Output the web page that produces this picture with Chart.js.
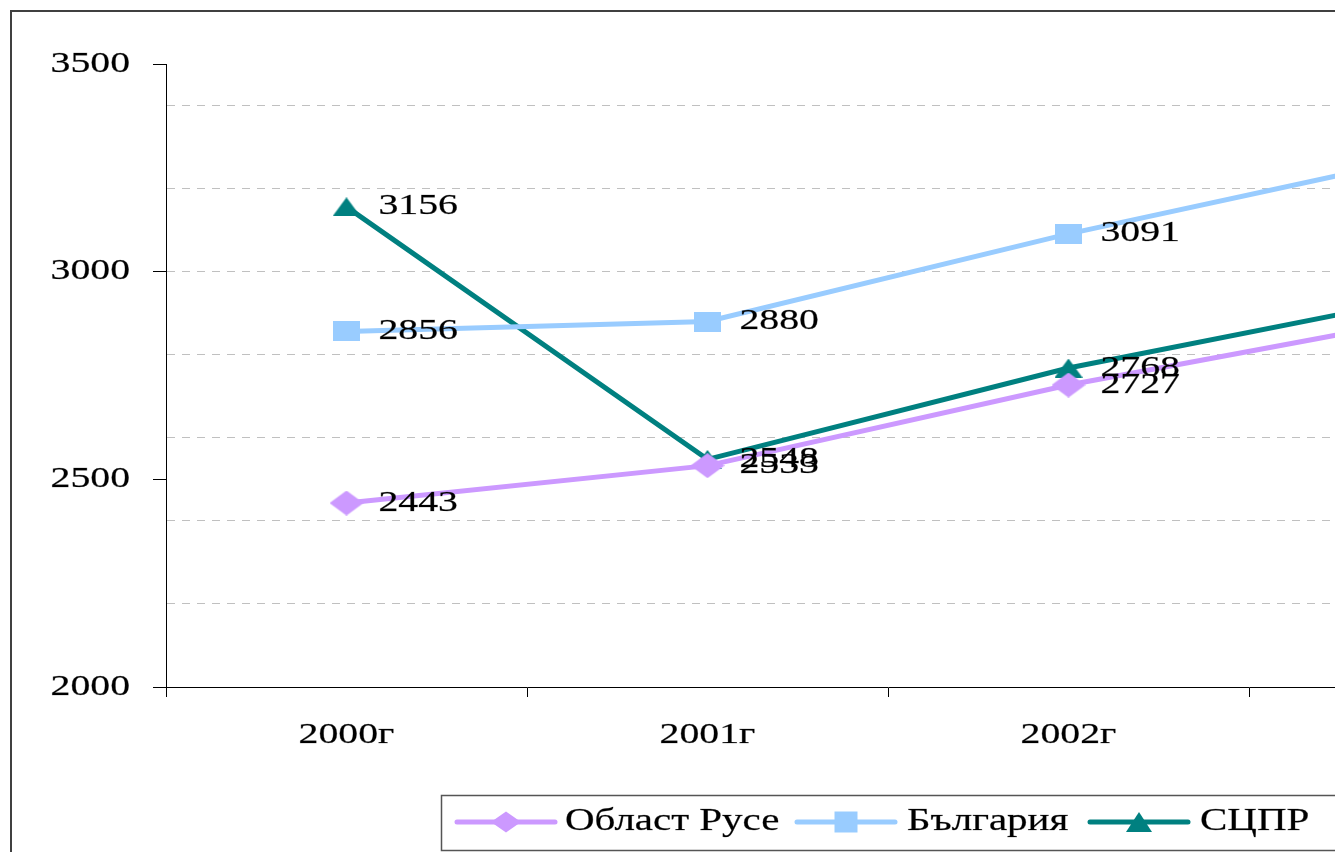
<!DOCTYPE html>
<html>
<head>
<meta charset="utf-8">
<script src="https://cdn.jsdelivr.net/npm/chart.js@4.4.0/dist/chart.umd.min.js"></script>
<style>
    html, body { margin: 0; padding: 0; background: #ffffff; overflow: hidden; }
    #wrap { position: absolute; left: 0; top: 0; width: 1700px; height: 852px; }
</style>
</head>
<body>
<div id="wrap"><canvas id="chart" width="1700" height="852"></canvas></div>
<script>
// Chart data
const years = ['2000г', '2001г', '2002г', '2003г'];
const seriesNames = ['Област Русе', 'България', 'СЦПР'];
const ruseValues = [2443, 2533, 2727, 2889];
const bulgariaValues = [2856, 2880, 3091, 3279];
const scprValues = [3156, 2548, 2768, 2940];
const yTickLabels = [2000, 2500, 3000, 3500];

const colors = ['#CC99FF', '#99CCFF', '#008080'];
const markers = ['diamond', 'square', 'triangle'];
// marker boxes (w, h) on the lines and in the legend
const pointBoxes = [[34, 25], [27, 20], [28, 19]];
const legendBoxes = [[30, 21], [23, 21], [26, 20]];

const SERIF = '"Liberation Serif", "Times New Roman", serif';

// draw wide serif text like the original picture
function wideText(ctx, txt, x, y, align, size, stretch) {
    ctx.save();
    ctx.translate(x, y);
    ctx.scale(stretch || 1.37, 1);
    ctx.font = (size || 29) + 'px ' + SERIF;
    ctx.fillStyle = '#000000';
    ctx.strokeStyle = 'rgba(0,0,0,0.45)';
    ctx.lineWidth = 0.5;
    ctx.textAlign = align;
    ctx.textBaseline = 'middle';
    ctx.fillText(txt, 0, 0);
    ctx.strokeText(txt, 0, 0);
    ctx.restore();
}

function shapePath(ctx, style, x, y, w, h) {
    ctx.beginPath();
    if (style === 'diamond') {
        ctx.moveTo(x - w / 2, y);
        ctx.lineTo(x, y - h / 2);
        ctx.lineTo(x + w / 2, y);
        ctx.lineTo(x, y + h / 2);
    } else if (style === 'square') {
        ctx.rect(x - w / 2, y - h / 2, w, h);
    } else {
        ctx.moveTo(x, y - h / 2);
        ctx.lineTo(x + w / 2, y + h / 2);
        ctx.lineTo(x - w / 2, y + h / 2);
    }
    ctx.closePath();
}

function makeMarker(style, w, h, color) {
    const c = document.createElement('canvas');
    c.width = w;
    c.height = h;
    const g = c.getContext('2d');
    g.fillStyle = color;
    shapePath(g, style, w / 2, h / 2, w, h);
    g.fill();
    return c;
}

const labelsPlugin = {
    id: 'labelsPlugin',
    afterDatasetsDraw(chart) {
        const ctx = chart.ctx;
        // value labels next to points
        chart.data.datasets.forEach((ds, i) => {
            chart.getDatasetMeta(i).data.forEach((pt, j) => {
                wideText(ctx, String(ds.data[j]), pt.x + 32, pt.y, 'left');
            });
        });
    },
    afterDraw(chart) {
        const ctx = chart.ctx;
        const yScale = chart.scales.y;
        const xScale = chart.scales.x;

        // axis labels
        yTickLabels.forEach(v => {
            wideText(ctx, String(v), 130, yScale.getPixelForValue(v), 'right');
        });
        years.forEach((yr, i) => {
            wideText(ctx, yr, xScale.getPixelForValue(i), 735, 'center');
        });

        // outer frame
        ctx.save();
        ctx.strokeStyle = '#404040';
        ctx.lineWidth = 2;
        ctx.strokeRect(11, 11, 1670, 900);
        ctx.restore();

        // legend
        ctx.save();
        ctx.strokeStyle = '#555555';
        ctx.lineWidth = 1.5;
        ctx.strokeRect(441.5, 795.5, 920, 55);
        ctx.restore();

        const lineStarts = [457, 797, 1090];
        const textStarts = [565, 907, 1200];
        const legendY = 822;
        seriesNames.forEach((name, i) => {
            ctx.save();
            ctx.strokeStyle = colors[i];
            ctx.lineWidth = 5;
            ctx.lineCap = 'round';
            ctx.beginPath();
            ctx.moveTo(lineStarts[i], legendY);
            ctx.lineTo(lineStarts[i] + 98, legendY);
            ctx.stroke();
            ctx.fillStyle = colors[i];
            const b = legendBoxes[i];
            shapePath(ctx, markers[i], lineStarts[i] + 49, legendY, b[0], b[1]);
            ctx.fill();
            ctx.restore();
            wideText(ctx, name, textStarts[i], legendY, 'left', 32, 1.28);
        });
    }
};

const allValues = [ruseValues, bulgariaValues, scprValues];

const ctx = document.getElementById('chart').getContext('2d');
new Chart(ctx, {
    type: 'line',
    data: {
        labels: years,
        datasets: seriesNames.map((name, i) => ({
            label: name,
            data: allValues[i],
            borderColor: colors[i],
            backgroundColor: colors[i],
            borderWidth: 5,
            tension: 0,
            pointStyle: makeMarker(markers[i], pointBoxes[i][0], pointBoxes[i][1], colors[i]),
            pointRadius: 13,
            pointBorderWidth: 0
        }))
    },
    options: {
        responsive: false,
        animation: false,
        layout: { padding: { left: 0, top: 64, right: 90, bottom: 0 } },
        plugins: {
            legend: { display: false },
            tooltip: { enabled: false }
        },
        scales: {
            x: {
                type: 'category',
                offset: true,
                grid: {
                    offset: true,
                    drawOnChartArea: false,
                    drawTicks: true,
                    tickLength: 10,
                    tickColor: '#000000'
                },
                border: { display: true, color: '#000000', width: 1 },
                ticks: { display: false },
                afterFit: s => { s.height = 165; }
            },
            y: {
                min: 2000,
                max: 3500,
                ticks: { display: false, stepSize: 100, autoSkip: false },
                grid: {
                    drawTicks: true,
                    tickLength: 13,
                    color: c => (c.tick && c.tick.value % 200 === 0 && c.tick.value > 2000 && c.tick.value < 3500) ? '#c0c0c0' : 'rgba(0,0,0,0)',
                    tickColor: c => (c.tick && c.tick.value % 500 === 0) ? '#000000' : 'rgba(0,0,0,0)'
                },
                border: { display: true, color: '#000000', width: 1, dash: [8, 7] },
                afterFit: s => { s.width = 166; }
            }
        }
    },
    plugins: [labelsPlugin]
});
</script>
</body>
</html>
